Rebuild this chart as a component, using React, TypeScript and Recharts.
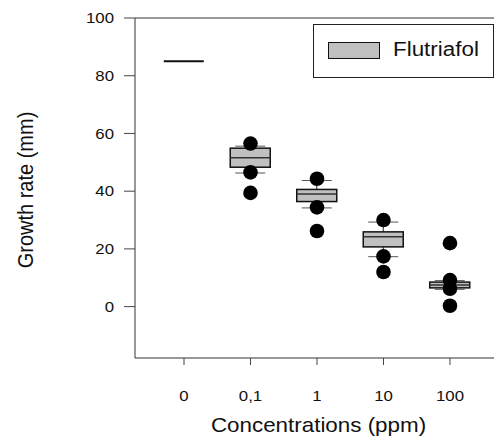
import React from "react";
import {
  Bar,
  ComposedChart,
  Label,
  Legend,
  ReferenceLine,
  Scatter,
  XAxis,
  YAxis,
} from "recharts";

// Growth rate box plots per flutriafol concentration
const categories = ["0", "0,1", "1", "10", "100"];
const whiskerLow = [85, 46.3, 34.2, 17.3, 6.0];
const quartile1 = [85, 48.3, 36.4, 20.7, 6.5];
const median = [85, 51.6, 39.0, 24.2, 7.5];
const quartile3 = [85, 54.9, 40.6, 25.9, 8.5];
const whiskerHigh = [85, 55.6, 43.7, 29.3, 9.0];
const outliers = [
  [],
  [56.5, 46.5, 39.4],
  [44.3, 34.4, 26.2],
  [30.0, 17.4, 12.0],
  [22.0, 9.2, 6.2, 0.3],
];
const yTicks = [0, 20, 40, 60, 80, 100];

const BOX_FILL = "#c0c0c0";
const INK = "#111";
const AXIS = "#333";
const FONT = "'Liberation Sans', Arial, sans-serif";
const STRETCH = 1.12;

const boxRows = categories.map((c, i) => ({
  x: i,
  range: [whiskerLow[i], whiskerHigh[i]],
  lo: whiskerLow[i],
  q1: quartile1[i],
  med: median[i],
  q3: quartile3[i],
  hi: whiskerHigh[i],
}));

const outlierRows = outliers.flatMap((vals, i) => vals.map((v) => ({ x: i, y: v })));

function BoxShape(props: any) {
  const { x, y, width, height, payload } = props;
  const top = Math.min(y, y + height);
  const h = Math.abs(height);
  const span = payload.hi - payload.lo;
  const k = span > 0 ? h / span : 0;
  const py = (v: number) => top + (payload.hi - v) * k;
  const cx = x + width / 2;
  const yQ3 = py(payload.q3);
  const yQ1 = py(payload.q1);

  if (span === 0) {
    return <line x1={x} x2={x + width} y1={top} y2={top} stroke={INK} strokeWidth={2} />;
  }
  return (
    <g>
      <line x1={cx} x2={cx} y1={py(payload.hi)} y2={yQ3} stroke="#222" />
      <line x1={cx} x2={cx} y1={yQ1} y2={py(payload.lo)} stroke="#222" />
      <line x1={cx - 15} x2={cx + 15} y1={py(payload.hi)} y2={py(payload.hi)} stroke="#555" />
      <line x1={cx - 15} x2={cx + 15} y1={py(payload.lo)} y2={py(payload.lo)} stroke="#555" />
      <rect x={x} y={yQ3} width={width} height={yQ1 - yQ3} fill={BOX_FILL} stroke={INK} strokeWidth={1.5} />
      <line x1={x} x2={x + width} y1={py(payload.med)} y2={py(payload.med)} stroke="#333" strokeWidth={1.5} />
    </g>
  );
}

function Dot(props: any) {
  return <circle cx={props.cx} cy={props.cy} r={7.3} fill="#000" />;
}

function YTick(props: any) {
  const { x, y, payload } = props;
  return (
    <text
      transform={`translate(${x - 10},${y}) scale(${STRETCH},1)`}
      textAnchor="end"
      dominantBaseline="central"
      fontSize={15}
      fontFamily={FONT}
      fill="#111"
    >
      {payload.value}
    </text>
  );
}

function XTick(props: any) {
  const { x, y, payload } = props;
  return (
    <text
      transform={`translate(${x},${y + 36}) scale(${STRETCH},1)`}
      textAnchor="middle"
      fontSize={15}
      fontFamily={FONT}
      fill="#111"
    >
      {categories[payload.value]}
    </text>
  );
}

function LegendBox(props: any) {
  const name = props.payload?.find((p: any) => p.type !== "none")?.value ?? "Flutriafol";
  return (
    <div
      style={{
        position: "relative",
        width: 181,
        height: 54,
        border: "1px solid #222",
        boxSizing: "border-box",
        background: "#fff",
      }}
    >
      <div
        style={{
          position: "absolute",
          left: 14,
          top: 17,
          width: 52,
          height: 17,
          background: BOX_FILL,
          border: "1.5px solid #111",
          boxSizing: "border-box",
        }}
      />
      <span
        style={{
          position: "absolute",
          left: 79,
          top: 12,
          fontSize: 20,
          lineHeight: "24px",
          fontFamily: FONT,
          color: "#111",
          transform: `scale(${STRETCH},1)`,
          transformOrigin: "left center",
          whiteSpace: "nowrap",
        }}
      >
        {name}
      </span>
    </div>
  );
}

export default function App() {
  return (
    <div
      style={{
        position: "absolute",
        left: 0,
        top: 0,
        width: 494,
        height: 439,
        background: "#fff",
        fontFamily: FONT,
      }}
    >
      <ComposedChart
        width={494}
        height={439}
        data={boxRows}
        margin={{ top: 18, right: 0, bottom: 0, left: 0 }}
      >
        <XAxis
          dataKey="x"
          type="number"
          domain={[-0.737, 4.662]}
          allowDataOverflow
          ticks={[0, 1, 2, 3, 4]}
          height={81}
          tickSize={7}
          tickMargin={0}
          tick={<XTick />}
          axisLine={{ stroke: AXIS }}
          tickLine={{ stroke: "#444" }}
        >
          <Label
            content={(p: any) => (
              <text
                transform={`translate(${p.viewBox.x + p.viewBox.width / 2 + 4},${p.viewBox.y + 74}) scale(${STRETCH},1)`}
                textAnchor="middle"
                fontSize={20}
                fontFamily={FONT}
                fill="#111"
              >
                Concentrations (ppm)
              </text>
            )}
          />
        </XAxis>
        <YAxis
          type="number"
          domain={[-17.8, 100]}
          allowDataOverflow
          ticks={yTicks}
          width={135}
          tickSize={11}
          tickMargin={0}
          tick={<YTick />}
          axisLine={{ stroke: AXIS }}
          tickLine={{ stroke: "#444" }}
        >
          <Label
            content={(p: any) => (
              <text
                transform={`translate(25,${p.viewBox.y + p.viewBox.height / 2 + 2}) scale(${STRETCH},1) rotate(-90)`}
                textAnchor="middle"
                dominantBaseline="central"
                fontSize={20}
                fontFamily={FONT}
                fill="#111"
              >
                Growth rate (mm)
              </text>
            )}
          />
        </YAxis>
        <ReferenceLine y={100} stroke={AXIS} />
        <Legend
          layout="horizontal"
          verticalAlign="middle"
          align="center"
          content={<LegendBox />}
          wrapperStyle={{ position: "absolute", left: 313, top: 24, width: 181, height: 54 }}
        />
        <Bar
          dataKey="range"
          name="Flutriafol"
          barSize={40}
          fill={BOX_FILL}
          shape={<BoxShape />}
          isAnimationActive={false}
        />
        <Scatter
          data={outlierRows}
          dataKey="y"
          legendType="none"
          shape={<Dot />}
          isAnimationActive={false}
        />
      </ComposedChart>
    </div>
  );
}
